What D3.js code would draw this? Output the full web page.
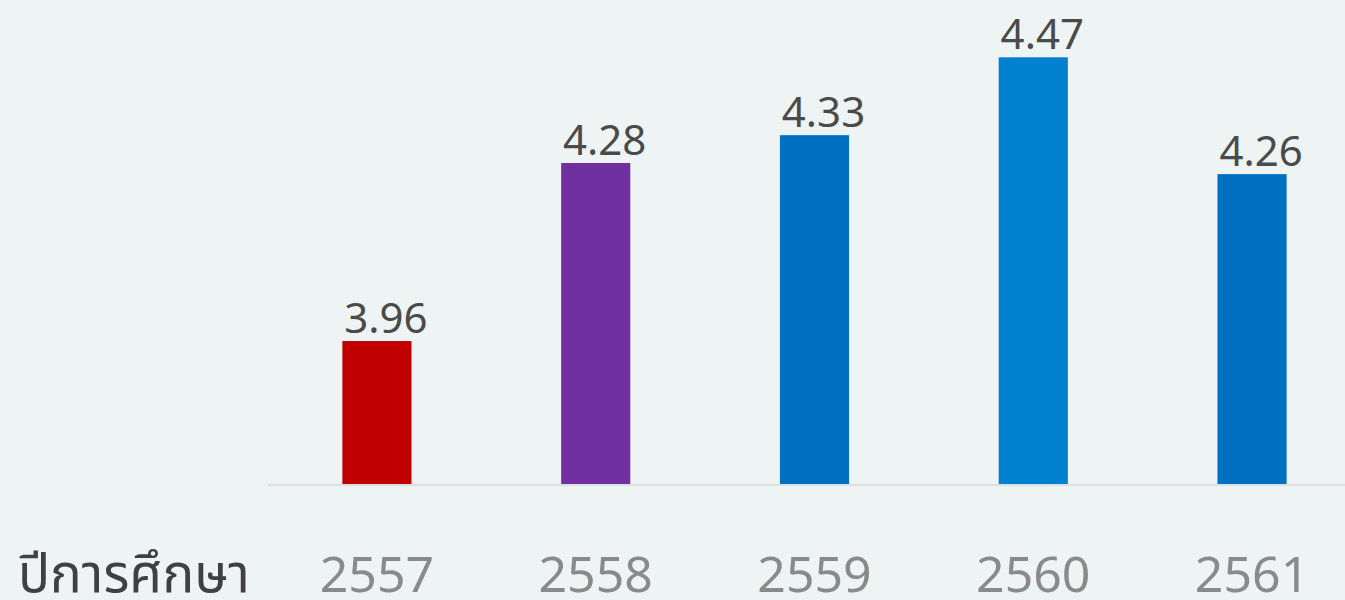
<!DOCTYPE html>
<html lang="th">
<head>
  <meta charset="UTF-8">
  <title>Bar chart</title>
  <script src="https://d3js.org/d3.v7.min.js"></script>
  <style>
    html, body { margin: 0; padding: 0; background: #eef4f4; }
    svg { display: block; }
  </style>
</head>
<body>
  <div id="chart"></div>
  <script>
    // data
    const years = ["2557", "2558", "2559", "2560", "2561"];
    const scores = [3.96, 4.28, 4.33, 4.47, 4.26];
    const barColors = ["#c00000", "#7030a0", "#0070c0", "#0080d0", "#0070c0"];
    const axisTitle = "ปีการศึกษา";

    const width = 1345, height = 600;
    const margin = { top: 0, right: 0, bottom: 116, left: 268 };
    const plotW = width - margin.left - margin.right;
    const plotH = height - margin.top - margin.bottom; // baseline at y=484

    const svg = d3.select("#chart").append("svg")
      .attr("width", width)
      .attr("height", height);

    const g = svg.append("g")
      .attr("transform", `translate(${margin.left},${margin.top})`);

    // x: band scale
    const x = d3.scaleBand()
      .domain(years)
      .range([0, plotW + 16])
      .paddingInner(0.684)
      .paddingOuter(0.34);

    // y: not zero based
    const y = d3.scaleLinear()
      .domain([3.703, 4.573])
      .range([plotH, 0]);

    // bars
    g.selectAll("rect.bar")
      .data(years)
      .enter()
      .append("rect")
      .attr("class", "bar")
      .attr("x", d => x(d))
      .attr("width", x.bandwidth())
      .attr("y", (d, i) => y(scores[i]))
      .attr("height", (d, i) => plotH - y(scores[i]))
      .attr("fill", (d, i) => barColors[i]);

    // baseline
    g.append("line")
      .attr("x1", 0).attr("x2", plotW)
      .attr("y1", plotH + 1).attr("y2", plotH + 1)
      .attr("stroke", "#dcdfe0")
      .attr("stroke-width", 2);

    // value labels
    g.selectAll("text.val")
      .data(years)
      .enter()
      .append("text")
      .attr("class", "val")
      .attr("x", d => x(d) + x.bandwidth() / 2 + 9)
      .attr("y", (d, i) => y(scores[i]) - 8)
      .attr("text-anchor", "middle")
      .attr("font-family", "'Noto Sans', 'DejaVu Sans', sans-serif")
      .attr("font-size", "42px")
      .attr("fill", "#4a4a4a")
      .text((d, i) => scores[i].toFixed(2));

    // category labels
    const xAxis = g.append("g")
      .attr("transform", `translate(0,${plotH})`)
      .call(d3.axisBottom(x).tickSize(0).tickPadding(0));
    xAxis.select(".domain").remove();
    xAxis.selectAll("text")
      .attr("y", 108)
      .attr("dy", null)
      .attr("font-family", "'Noto Sans', 'DejaVu Sans', sans-serif")
      .attr("font-size", "50px")
      .attr("fill", "#8a8a8a");

    // axis title
    svg.append("text")
      .attr("x", 18)
      .attr("y", 592)
      .attr("font-family", "'Noto Sans', 'Noto Sans Thai', 'DejaVu Sans', sans-serif")
      .attr("font-size", "53px")
      .attr("fill", "#404040")
      .text(axisTitle);
  </script>
</body>
</html>
